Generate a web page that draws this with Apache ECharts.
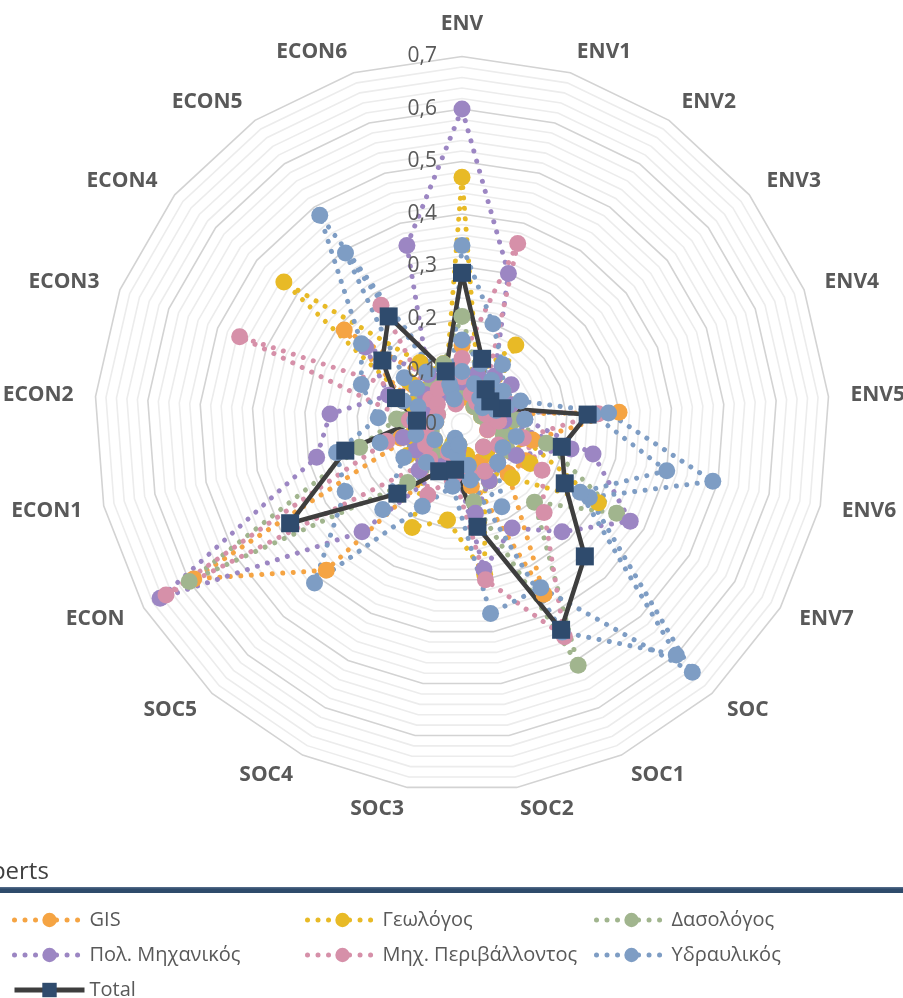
<!DOCTYPE html>
<html>
<head>
<meta charset="utf-8">
<script src="https://cdn.jsdelivr.net/npm/echarts@6/dist/echarts.min.js"></script>
<style>
  html, body { margin: 0; padding: 0; background: #ffffff; }
  #chart { width: 903px; height: 998px; }
</style>
</head>
<body>
<div id="chart"></div>
<script>
// Criteria around the radar, clockwise from the top
const categories = ['ENV', 'ENV1', 'ENV2', 'ENV3', 'ENV4', 'ENV5', 'ENV6', 'ENV7',
  'SOC', 'SOC1', 'SOC2', 'SOC3', 'SOC4', 'SOC5',
  'ECON', 'ECON1', 'ECON2', 'ECON3', 'ECON4', 'ECON5', 'ECON6'];

const tickLabels = ['0', '0,1', '0,2', '0,3', '0,4', '0,5', '0,6', '0,7'];

// Weights given by each expert, grouped by profession
const gis1 = [0.15, 0.09, 0.07, 0.06, 0.05, 0.30, 0.138, 0.10, 0.13, 0.36, 0.10, 0.06, 0.08, 0.38, 0.59, 0.10, 0.07, 0.10, 0.287, 0.10, 0.08];
const gis2 = [0.05, 0.093, 0.04, 0.08, 0.10, 0.06, 0.05, 0.14, 0.129, 0.08, 0.12, 0.04, 0.06, 0.09, 0.07, 0.12, 0.05, 0.07, 0.12, 0.09, 0.06];

const geo1 = [0.47, 0.10, 0.182, 0.07, 0.06, 0.10, 0.12, 0.30, 0.14, 0.10, 0.29, 0.185, 0.219, 0.10, 0.12, 0.10, 0.06, 0.10, 0.434, 0.142, 0.10];
const geo2 = [0.07, 0.12, 0.05, 0.09, 0.04, 0.06, 0.09, 0.15, 0.07, 0.12, 0.06, 0.05, 0.04, 0.07, 0.06, 0.09, 0.08, 0.12, 0.13, 0.09, 0.12];

const forest1 = [0.205, 0.10, 0.06, 0.05, 0.04, 0.10, 0.165, 0.34, 0.203, 0.51, 0.15, 0.06, 0.08, 0.152, 0.60, 0.20, 0.125, 0.07, 0.10, 0.08, 0.12];
const forest2 = [0.06, 0.12, 0.04, 0.07, 0.09, 0.05, 0.08, 0.10, 0.06, 0.12, 0.08, 0.04, 0.05, 0.08, 0.09, 0.06, 0.11, 0.05, 0.07, 0.10, 0.05];

const civil1 = [0.60, 0.30, 0.11, 0.08, 0.10, 0.12, 0.256, 0.37, 0.28, 0.22, 0.28, 0.08, 0.10, 0.28, 0.664, 0.284, 0.252, 0.15, 0.235, 0.114, 0.356];
const civil2 = [0.08, 0.10, 0.07, 0.12, 0.06, 0.08, 0.213, 0.12, 0.10, 0.12, 0.172, 0.05, 0.09, 0.12, 0.10, 0.115, 0.08, 0.06, 0.09, 0.07, 0.05];

const envEng1 = [0.125, 0.36, 0.08, 0.06, 0.07, 0.26, 0.12, 0.176, 0.23, 0.45, 0.30, 0.10, 0.15, 0.10, 0.651, 0.147, 0.10, 0.455, 0.076, 0.274, 0.10];
const envEng2 = [0.09, 0.06, 0.05, 0.10, 0.05, 0.07, 0.05, 0.08, 0.06, 0.10, 0.10, 0.07, 0.06, 0.09, 0.08, 0.07, 0.10, 0.05, 0.06, 0.08, 0.04];

const hydro1 = [0.34, 0.20, 0.137, 0.10, 0.12, 0.28, 0.49, 0.28, 0.645, 0.346, 0.365, 0.12, 0.174, 0.413, 0.257, 0.245, 0.16, 0.206, 0.245, 0.481, 0.07];
const hydro2 = [0.10, 0.08, 0.06, 0.05, 0.07, 0.25, 0.40, 0.26, 0.60, 0.44, 0.108, 0.06, 0.055, 0.222, 0.128, 0.09, 0.05, 0.09, 0.141, 0.394, 0.05];
const hydro3 = [0.16, 0.12, 0.10, 0.08, 0.09, 0.12, 0.106, 0.09, 0.10, 0.175, 0.08, 0.04, 0.03, 0.10, 0.06, 0.16, 0.09, 0.12, 0.11, 0.12, 0.08];

const total = [0.288, 0.13, 0.08, 0.069, 0.082, 0.24, 0.195, 0.226, 0.344, 0.435, 0.198, 0.088, 0.10, 0.181, 0.378, 0.228, 0.086, 0.135, 0.194, 0.248, 0.105];

const groups = [
  { name: 'GIS', color: '#F5A443', rows: [gis1, gis2] },
  { name: 'Γεωλόγος', color: '#E8BA26', rows: [geo1, geo2] },
  { name: 'Δασολόγος', color: '#A1B58E', rows: [forest1, forest2] },
  { name: 'Πολ. Μηχανικός', color: '#9C86C3', rows: [civil1, civil2] },
  { name: 'Μηχ. Περιβάλλοντος', color: '#D690A9', rows: [envEng1, envEng2] },
  { name: 'Υδραυλικός', color: '#7E9DC4', rows: [hydro1, hydro2, hydro3] }
];
const totalName = 'Total';
const totalLine = '#3E3E3E';
const totalMark = '#2F4B6D';

// ECharts lays radar indicators out counter-clockwise, so keep the first
// one on top and reverse the rest to read clockwise.
const clockwise = arr => [arr[0]].concat(arr.slice(1).reverse());

const FONT = '"Open Sans", "Noto Sans", sans-serif';
const dotted = [0.01, 10.5];

const series = [];
// Empty line series: they give the legend its line + marker icons
groups.forEach(g => {
  series.push({
    type: 'line', name: g.name, data: [],
    symbol: 'circle',
    itemStyle: { color: g.color },
    lineStyle: { color: g.color, width: 5, type: dotted, cap: 'round' }
  });
});
series.push({
  type: 'line', name: totalName, data: [],
  symbol: 'rect',
  itemStyle: { color: totalMark },
  lineStyle: { color: totalLine, width: 5 }
});

// One radar series per expert
groups.forEach(g => {
  g.rows.forEach(row => {
    series.push({
      type: 'radar', name: g.name,
      symbol: 'circle', symbolSize: 17,
      itemStyle: { color: g.color },
      lineStyle: { color: g.color, width: 5, type: dotted, cap: 'round' },
      emphasis: { disabled: true },
      data: [{ value: clockwise(row) }]
    });
  });
});
series.push({
  type: 'radar', name: totalName,
  symbol: 'rect', symbolSize: 18,
  itemStyle: { color: totalMark },
  lineStyle: { color: totalLine, width: 4.5 },
  emphasis: { disabled: true },
  data: [{ value: clockwise(total) }]
});

const CX = 462, CY = 424, R = 367.5;
const legendText = { fontFamily: FONT, fontSize: 20, lineHeight: 20, color: '#595959' };
const legendBase = {
  orient: 'vertical', top: 910, height: 120, itemGap: 15, padding: 0,
  itemWidth: 70, itemHeight: 18,
  textStyle: legendText,
  lineStyle: { width: 5 },
  selectedMode: false
};

const option = {
  animation: false,
  backgroundColor: '#ffffff',
  textStyle: { fontFamily: FONT },
  title: {
    text: 'Experts', left: -40, top: 855,
    textStyle: { fontFamily: FONT, fontSize: 24, fontWeight: 'normal', color: '#404040' }
  },
  radar: {
    center: [CX, CY], radius: R, startAngle: 90,
    shape: 'polygon', splitNumber: 35,
    indicator: clockwise(categories).map(n => ({ name: n, min: 0, max: 0.7 })),
    axisName: { color: '#595959', fontSize: 21, fontWeight: 'bold', fontFamily: FONT },
    nameGap: 22,
    axisLine: { show: false },
    axisTick: { show: false },
    axisLabel: { show: false },
    splitArea: { show: false },
    splitLine: {
      lineStyle: { color: ['#d3d3d3', '#ececec', '#ececec', '#ececec', '#ececec'], width: 1.6 }
    }
  },
  // Value scale drawn along the ENV axis
  grid: { left: CX - 1, top: CY - R, width: 1, height: R },
  xAxis: { type: 'value', show: false, min: 0, max: 1 },
  yAxis: {
    type: 'value', min: 0, max: 0.7, interval: 0.1, z: 10,
    axisLine: { show: false }, axisTick: { show: false }, splitLine: { show: false },
    axisLabel: {
      margin: 24, fontSize: 21, color: '#595959', fontFamily: FONT,
      formatter: (v, i) => tickLabels[i]
    }
  },
  legend: [
    Object.assign({}, legendBase, { left: 12, data: ['GIS', 'Πολ. Μηχανικός', totalName] }),
    Object.assign({}, legendBase, { left: 305, data: ['Γεωλόγος', 'Μηχ. Περιβάλλοντος'] }),
    Object.assign({}, legendBase, { left: 594, data: ['Δασολόγος', 'Υδραυλικός'] })
  ],
  graphic: [{
    type: 'rect', left: 0, top: 887, z: 5,
    shape: { width: 903, height: 6 },
    style: {
      fill: new echarts.graphic.LinearGradient(0, 0, 0, 1, [
        { offset: 0, color: '#5b7290' },
        { offset: 0.35, color: '#2f4b6b' },
        { offset: 1, color: '#2f4b6b' }
      ])
    }
  }],
  series: series
};

const chart = echarts.init(document.getElementById('chart'), null, { renderer: 'canvas' });
chart.setOption(option);
</script>
</body>
</html>
